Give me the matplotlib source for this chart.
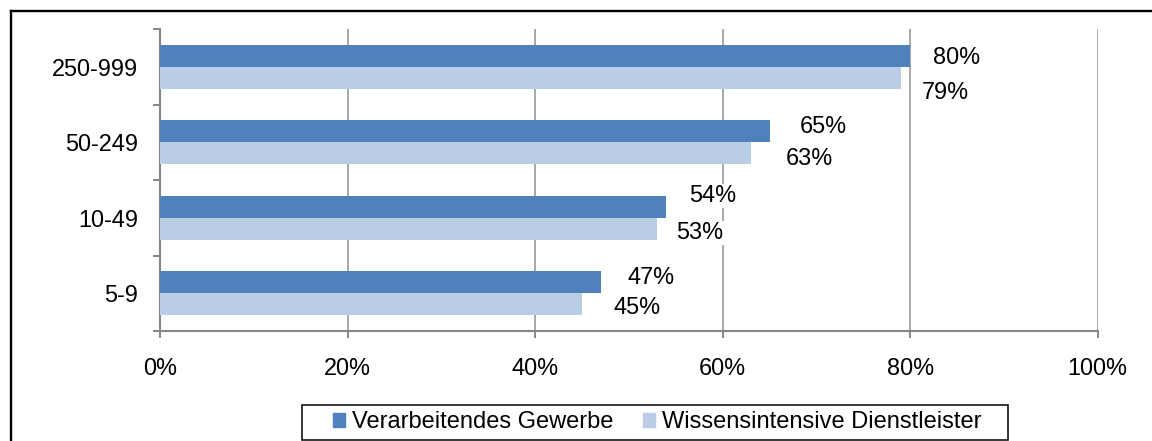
import matplotlib.pyplot as plt
import matplotlib as mpl
from matplotlib.patches import Patch, Rectangle
from matplotlib.lines import Line2D
import numpy as np

plt.rcParams["font.family"] = ["Liberation Sans", "DejaVu Sans"]

# data
categories = ["5-9", "10-49", "50-249", "250-999"]
verarbeitend = [47, 54, 65, 80]
wissen = [45, 53, 63, 79]
series_names = ["Verarbeitendes Gewerbe", "Wissensintensive Dienstleister"]
xticks = [0, 20, 40, 60, 80, 100]

# label nudges in pixels (dx right, dy up), to mimic the Excel placement
nudge_dark = [(27, 5), (23, 11), (30, 4.5), (23, -2)]
nudge_light = [(32, -3), (19, -4), (35, -5), (21, -15)]

c_dark = "#4F81BD"
c_light = "#B9CDE5"
fs = 16.9
px = 0.72  # points per pixel at dpi 100

fig = plt.figure(figsize=(11.52, 4.41), dpi=100)
ax = fig.add_axes([160/1152, 1-331/441, (1097.7-160)/1152, (331-29)/441])

y = np.arange(len(categories))
h = 22/75.5
ax.barh(y + h/2, verarbeitend, height=h, color=c_dark, zorder=3)
ax.barh(y - h/2, wissen, height=h, color=c_light, zorder=3)

for i in range(len(categories)):
    for val, yy, (dx, dy) in [(verarbeitend[i], y[i] + h/2, nudge_dark[i]),
                              (wissen[i], y[i] - h/2, nudge_light[i])]:
        ax.annotate(f"{val}%", (val, yy), xytext=(dx*px, dy*px), textcoords="offset points",
                    ha="left", va="center", fontsize=fs, zorder=4,
                    bbox=dict(facecolor="white", edgecolor="none", pad=0.5))

ax.set_xlim(0, 100)
ax.set_ylim(-0.5, len(categories) - 0.5)
ax.set_xticks(xticks, [f"{t}%" for t in xticks], fontsize=fs)
ax.set_yticks(y, categories, fontsize=fs)
ax.set_yticks(np.arange(-0.5, len(categories)), minor=True)
ax.tick_params(axis="y", which="major", length=0, pad=16)
ax.tick_params(axis="y", which="minor", length=5, width=1.4, color="#868686")
ax.tick_params(axis="x", length=5, width=1.4, color="#868686", pad=14)
ax.grid(axis="x", color="#999999", lw=1.2, zorder=1)
ax.set_axisbelow(True)
for s in ["top", "right"]:
    ax.spines[s].set_visible(False)
for s in ["left", "bottom"]:
    ax.spines[s].set_color("#868686")
    ax.spines[s].set_linewidth(1.5)

# legend box drawn by hand, entries via legend
fig.patches.append(Rectangle((302/1152, 1-440/441), (1008-302)/1152, (440-405)/441,
                             transform=fig.transFigure, facecolor="white",
                             edgecolor="black", lw=1.1, zorder=5))
handles = [Patch(color=c_dark), Patch(color=c_light)]
leg = fig.legend(handles, series_names, loc="center left", ncol=2, frameon=False,
                 bbox_to_anchor=(333/1152, 1-422.5/441), borderaxespad=0, borderpad=0,
                 fontsize=17.0, handlelength=0.52, handleheight=0.52,
                 handletextpad=0.28, columnspacing=1.25)
leg.set_zorder(6)

# outer frame (top and left edges visible)
fig.add_artist(Line2D([11/1152, 1.01], [1-11/441, 1-11/441], color="black", lw=1.7,
                      transform=fig.transFigure))
fig.add_artist(Line2D([11/1152, 11/1152], [-0.01, 1-11/441], color="black", lw=1.7,
                      transform=fig.transFigure))

fig.savefig("out.png", dpi=100)
